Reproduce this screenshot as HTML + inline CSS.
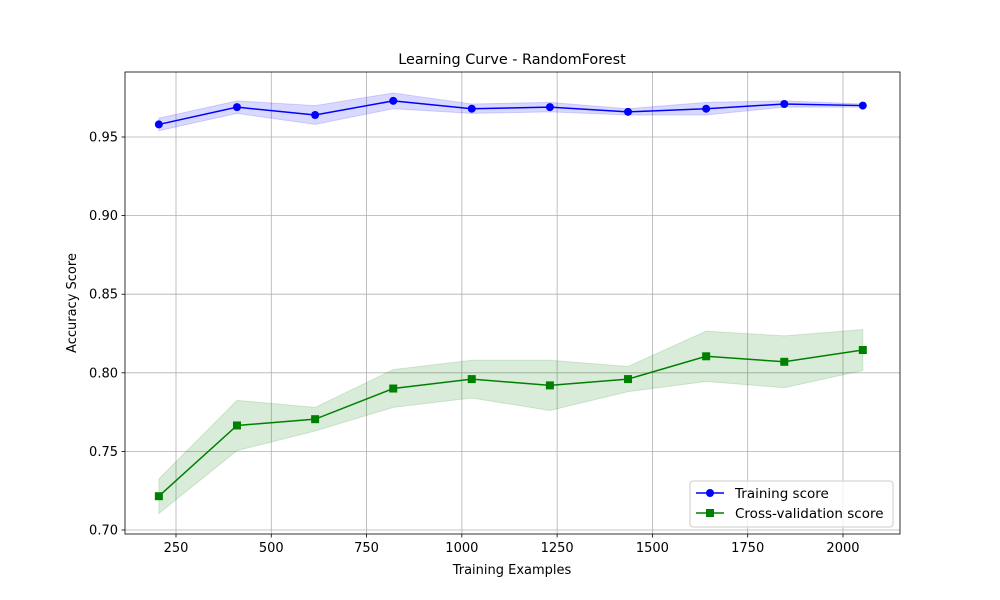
<!DOCTYPE html>
<html><head><meta charset="utf-8"><style>
html,body{margin:0;padding:0;background:#fff;}
svg{display:block;font-family:"DejaVu Sans","Liberation Sans",sans-serif;}
</style></head><body>
<svg id="chart" width="1000" height="600">
<rect width="1000" height="600" fill="#fff"/>
<g id="grid"></g>
<g id="bands"></g>
<g id="lines"></g>
<g id="axes"></g>
<text x="512" y="64" text-anchor="middle" font-size="14.4">Learning Curve - RandomForest</text>
<text x="512" y="574" text-anchor="middle" font-size="13">Training Examples</text>
<text transform="translate(76,303) rotate(-90)" text-anchor="middle" font-size="13">Accuracy Score</text>
<g>
<rect x="690" y="481" width="203" height="46" rx="3" fill="#fff" fill-opacity="0.8" stroke="#ccc"/>
<g>
<line x1="696" y1="493" x2="724" y2="493" stroke="blue" stroke-width="1.5"/>
<circle cx="710" cy="493" r="4" fill="blue"/>
<text x="735" y="498" font-size="13.5">Training score</text></g>
<g>
<line x1="696" y1="513" x2="724" y2="513" stroke="green" stroke-width="1.5"/>
<rect x="706" y="509" width="8" height="8" fill="green"/>
<text x="735" y="518" font-size="13.5">Cross-validation score</text></g>
</g>
</svg>
<script>
const trainSizes=[205,410,615,820,1026,1231,1436,1641,1846,2052];
const trainMean=[0.958,0.969,0.964,0.973,0.968,0.969,0.966,0.968,0.971,0.970];
const trainStd=[0.004,0.004,0.006,0.005,0.003,0.003,0.002,0.004,0.002,0.001];
const cvMean=[0.7215,0.7665,0.7705,0.790,0.796,0.792,0.796,0.8105,0.807,0.8145];
const cvStd=[0.011,0.016,0.0075,0.012,0.012,0.016,0.008,0.016,0.0165,0.013];
const xTicks=[250,500,750,1000,1250,1500,1750,2000];
const yTicks=[0.70,0.75,0.80,0.85,0.90,0.95];
const yTickLabels=["0.70","0.75","0.80","0.85","0.90","0.95"];

const L=125,R=900,T=72,B=534;
const xMin=116.2,xMax=2149.6,yMin=0.69746,yMax=0.99135;
const X=v=>L+(v-xMin)/(xMax-xMin)*(R-L);
const Y=v=>B-(v-yMin)/(yMax-yMin)*(B-T);
const NS="http://www.w3.org/2000/svg";
function mk(tag,attrs,parent){const e=document.createElementNS(NS,tag);for(const k in attrs)e.setAttribute(k,attrs[k]);parent.appendChild(e);return e;}
const grid=document.getElementById('grid'),axes=document.getElementById('axes'),bands=document.getElementById('bands'),lines=document.getElementById('lines');
xTicks.forEach(t=>{
 const x=X(t);
 const g=mk('line',{x1:x,x2:x,y1:T,y2:B,stroke:'#b0b0b0','stroke-width':0.8},grid);
 
 
 mk('line',{x1:x,x2:x,y1:B,y2:B+3.5,stroke:'#000','stroke-width':0.8},axes);
 const tx=mk('text',{x:x,y:B+18,'text-anchor':'middle','font-size':13},axes);
 tx.textContent=t;
 
 
});
yTicks.forEach((t,i)=>{
 const y=Y(t);
 const g=mk('line',{x1:L,x2:R,y1:y,y2:y,stroke:'#b0b0b0','stroke-width':0.8},grid);
 
 
 mk('line',{x1:L-3.5,x2:L,y1:y,y2:y,stroke:'#000','stroke-width':0.8},axes);
 const tx=mk('text',{x:L-7,y:y+4.5,'text-anchor':'end','font-size':13},axes);
 tx.textContent=yTickLabels[i];
 
 
});
const frame=mk('rect',{x:L,y:T,width:R-L,height:B-T,fill:'none',stroke:'#000','stroke-width':0.8},axes);


function band(mean,std,color,name){
 const up=trainSizes.map((s,i)=>X(s)+','+Y(mean[i]+std[i]));
 const lo=trainSizes.map((s,i)=>X(s)+','+Y(mean[i]-std[i])).reverse();
 const p=mk('polygon',{points:up.concat(lo).join(' '),fill:color,'fill-opacity':0.15,stroke:color,'stroke-opacity':0.15},bands);
 
 
}
band(trainMean,trainStd,'blue','training-std-band');
band(cvMean,cvStd,'green','cv-std-band');
function series(mean,color,name,marker){
 const pl=mk('polyline',{points:trainSizes.map((s,i)=>X(s)+','+Y(mean[i])).join(' '),fill:'none',stroke:color,'stroke-width':1.5},lines);
 
 
 trainSizes.forEach((s,i)=>{
  let m;
  if(marker==='circle') m=mk('circle',{cx:X(s),cy:Y(mean[i]),r:4,fill:color},lines);
  else m=mk('rect',{x:X(s)-4,y:Y(mean[i])-4,width:8,height:8,fill:color},lines);
  
  
 });
}
series(trainMean,'blue','training-score','circle');
series(cvMean,'green','cv-score','square');
</script>
</body></html>
